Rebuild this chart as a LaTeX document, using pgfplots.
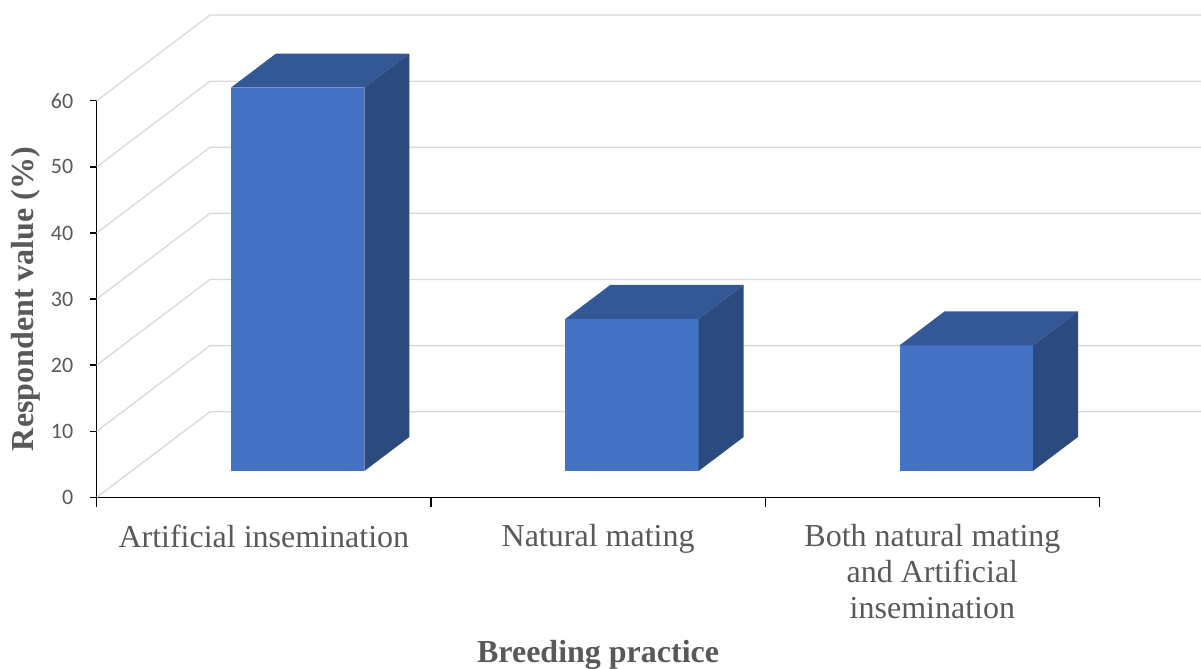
\documentclass[border=0pt]{standalone}
\usepackage{pgfplots}
\usepackage{pgfplotstable}
\pgfplotsset{compat=1.18}
\usepackage{fontspec}
\setmainfont{Liberation Serif}
\newfontfamily\tickfont{Carlito}

\definecolor{barfront}{HTML}{4472C4}
\definecolor{bartop}{HTML}{345896}
\definecolor{barside}{HTML}{2B4A7F}
\definecolor{gridgray}{HTML}{D9D9D9}
\definecolor{textgray}{HTML}{595959}

% share of respondents per breeding practice (%)
\pgfplotstableread{
idx value
0   58
1   23
2   19
}\breeding

% oblique 3-D geometry, in axis units
\def\barleft{-0.098}  % front face left edge, relative to category centre
\def\barright{0.301}  % front face right edge
\def\barbase{4.0}     % front face sits this far up (depth shift)
\def\depthx{0.1346}   % bar depth, horizontal component
\def\depthy{5.14}     % bar depth, vertical component
\def\wallx{0.339}     % back wall offset
\def\wally{12.96}

\newcommand\threedbar[2]{%
  \pgfmathsetmacro\bL{#1+\barleft}%
  \pgfmathsetmacro\bR{#1+\barright}%
  \pgfmathsetmacro\bLd{#1+\barleft+\depthx}%
  \pgfmathsetmacro\bRd{#1+\barright+\depthx}%
  \pgfmathsetmacro\bB{\barbase}%
  \pgfmathsetmacro\bT{\barbase+#2}%
  \pgfmathsetmacro\bBd{\barbase+\depthy}%
  \pgfmathsetmacro\bTd{\barbase+#2+\depthy}%
  \addplot[draw=none, fill=barfront] coordinates {(\bL,\bB) (\bR,\bB) (\bR,\bT) (\bL,\bT)} -- cycle;
  \addplot[draw=none, fill=bartop] coordinates {(\bL,\bT) (\bR,\bT) (\bRd,\bTd) (\bLd,\bTd)} -- cycle;
  \addplot[draw=none, fill=barside] coordinates {(\bR,\bB) (\bRd,\bBd) (\bRd,\bTd) (\bR,\bT)} -- cycle;
}

\begin{document}
\begin{tikzpicture}
\begin{axis}[
  scale only axis,
  width=752.1pt, height=297.45pt,
  xmin=-0.5, xmax=2.5, ymin=0, ymax=60,
  clip=false,
  axis x line*=bottom, axis y line*=left,
  axis line style={black, line width=1.1pt},
  ytick={0,10,...,60},
  xtick={0,1,2},
  xtick style={draw=none},
  tick align=outside,
  major tick length=5pt,
  ytick style={black, line width=1.1pt},
  /pgf/number format/assume math mode=true,
  yticklabel style={font=\tickfont\fontsize{16.5}{19}\selectfont, text=textgray, xshift=-9pt},
  xticklabels={Artificial insemination, Natural mating, {Both natural mating\\and Artificial\\insemination}},
  xticklabel style={font=\fontsize{24}{27}\selectfont, text=textgray, align=center, anchor=north, yshift=-12pt},
  xlabel={\textbf{Breeding practice}},
  ylabel={\textbf{Respondent value (\%)}},
  xlabel style={font=\fontsize{24}{28}\selectfont, text=textgray, yshift=-9pt},
  ylabel style={font=\fontsize{24}{28}\selectfont, text=textgray, yshift=1.25pt},
]
% side wall and back wall gridlines
\pgfplotsinvokeforeach{0,10,...,60}{%
  \pgfmathsetmacro\gb{#1+\wally}%
  \pgfmathsetmacro\gx{-0.5+\wallx}%
  \addplot[gridgray, line width=1pt] coordinates {(-0.5,#1) (\gx,\gb) (2.803,\gb)};
}
% bars
\pgfplotsinvokeforeach{0,1,2}{%
  \pgfplotstablegetelem{#1}{value}\of\breeding
  \threedbar{#1}{\pgfplotsretval}
}
% tick marks on the category boundaries
\addplot[ycomb, black, line width=1.1pt, mark=none] coordinates {(-0.5,-1.45) (0.5,-1.45) (1.5,-1.45) (2.5,-1.45)};
\end{axis}
\pgfresetboundingbox
\useasboundingbox (-72.5pt,-128pt) rectangle (828.2pt,373pt);
\end{tikzpicture}
\end{document}
